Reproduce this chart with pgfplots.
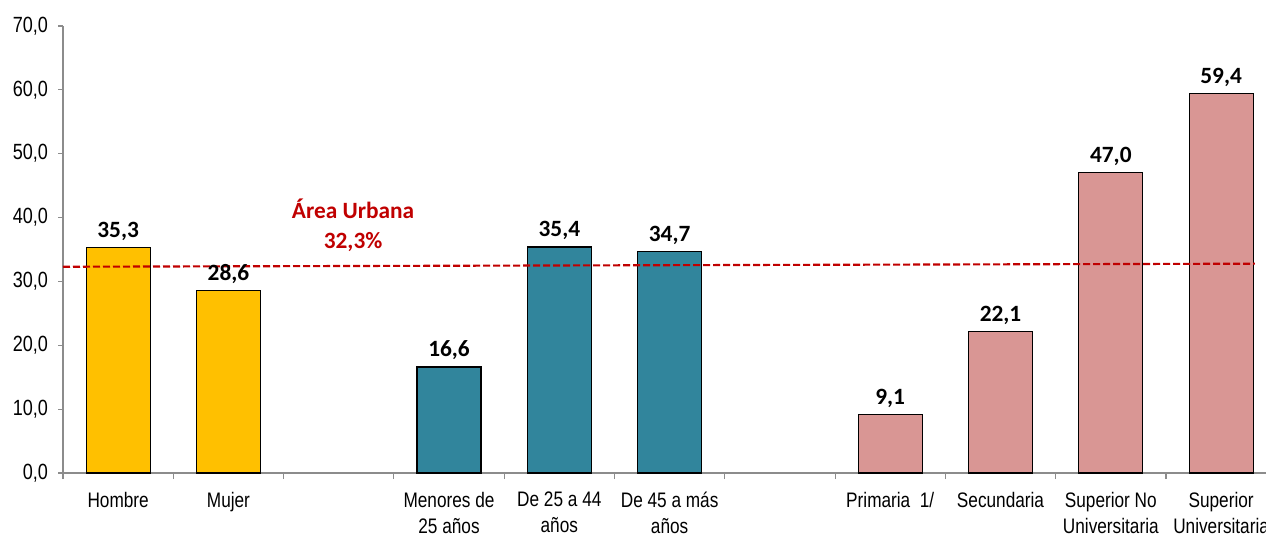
\documentclass[border=0pt]{standalone}
\usepackage{fontspec}
\setmainfont{Liberation Sans}
\newfontfamily\narrowfont[FakeStretch=0.82]{Liberation Sans}
\newfontfamily\calibri{Carlito}
\usepackage{pgfplots}
\usepackage{pgfplotstable}
\pgfplotsset{compat=1.18}

\definecolor{amarillo}{HTML}{FFC000}
\definecolor{verdeazul}{HTML}{31859C}
\definecolor{rosa}{HTML}{D99694}
\definecolor{rojo}{HTML}{C00000}

% sexo
\pgfplotstableread{
x y
0 35.3
1 28.6
}\sexo
% edad
\pgfplotstableread{
x y
3 16.6
4 35.4
5 34.7
}\edad
% nivel educativo
\pgfplotstableread{
x y
7 9.1
8 22.1
9 47.0
10 59.4
}\educ

\begin{document}
\begin{tikzpicture}
\begin{axis}[
    name=ax,
    scale only axis,
    width=902.25pt, height=335.25pt,
    xmin=-0.5, xmax=10.407,
    ymin=0, ymax=70,
    ybar, bar width=48pt, bar shift=0pt,
    axis x line*=bottom, axis y line*=left,
    axis line style={draw=black!45, line width=0.8pt},
    ytick={0,10,...,70},
    yticklabel style={font=\narrowfont\fontsize{16.5}{18}\selectfont, xshift=-4pt,
      /pgf/number format/.cd, use comma, fixed, fixed zerofill, precision=1,
      assume math mode=true},
    xtick={0,1,3,4,5,7,8,9,10},
    xticklabels={Hombre, Mujer, {Menores de\\25 años}, {De 25 a 44\\años},
      {De 45 a más\\años}, {Primaria\ \ 1/}, Secundaria,
      {Superior No\\Universitaria}, {Superior\\Universitaria}},
    xticklabel style={font=\narrowfont\fontsize{15.75}{19.5}\selectfont,
      align=center, yshift=-7pt},
    minor xtick={-0.5,0.5,...,9.5},
    major x tick style={draw=none},
    tick align=outside,
    major tick length=3.75pt,
    minor tick length=4.5pt,
    tick style={draw=black!45, line width=0.8pt},
    nodes near coords={\pgfmathprintnumber[fixed,fixed zerofill,precision=1,use comma,assume math mode=true]{\pgfplotspointmeta}},
    every node near coord/.append style={font=\calibri\bfseries\fontsize{17.5}{20}\selectfont, black, yshift=1.5pt},
    clip=false,
  ]
  \addplot[fill=amarillo, draw=black, line width=0.9pt] table[x=x,y=y] {\sexo};
  \addplot[fill=verdeazul, draw=black, line width=0.9pt] table[x=x,y=y] {\edad};
  \addplot[fill=rosa, draw=black, line width=0.9pt] table[x=x,y=y] {\educ};
  \addplot[sharp plot, no marks, draw=rojo, line width=1.6pt,
    dash pattern=on 5.25pt off 2.25pt, nodes near coords={}, forget plot]
    coordinates {(-0.5,32.3) (10.307,32.78)};
  \node[align=center, text=rojo, font=\calibri\bfseries\fontsize{17.5}{22.5}\selectfont]
    at (axis cs:2.13,38.85) {Área Urbana\\32,3\%};
\end{axis}
\pgfresetboundingbox
\path[use as bounding box] ([xshift=-47.25pt,yshift=-47.25pt]ax.south west)
  rectangle ([yshift=19.5pt]ax.north east);
\end{tikzpicture}
\end{document}
